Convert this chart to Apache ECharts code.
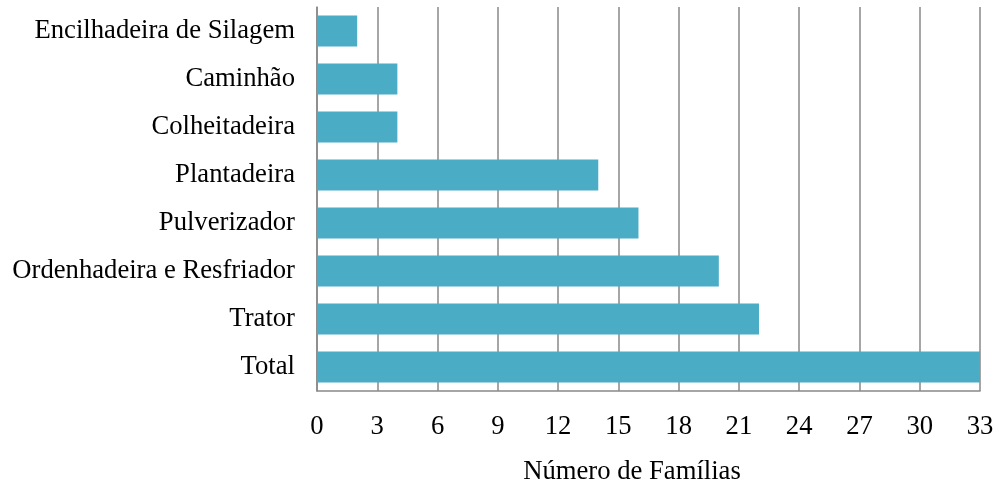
<!DOCTYPE html>
<html>
<head>
<meta charset="utf-8">
<script src="https://cdn.jsdelivr.net/npm/echarts@6/dist/echarts.min.js"></script>
<style>
  html, body { margin: 0; padding: 0; background: #fff; }
  #chart { width: 999px; height: 483px; }
</style>
</head>
<body>
<div id="chart"></div>
<script>
// categories listed bottom to top
const categories = ['Total', 'Trator', 'Ordenhadeira e Resfriador', 'Pulverizador',
  'Plantadeira', 'Colheitadeira', 'Caminhão', 'Encilhadeira de Silagem'];
const values = [33, 22, 20, 16, 14, 4, 4, 2];
const xTicks = [0, 3, 6, 9, 12, 15, 18, 21, 24, 27, 30, 33];

const font = '"Liberation Serif", "Times New Roman", serif';
const fs = 26.67; // 20pt
const chart = echarts.init(document.getElementById('chart'));

chart.setOption({
  animation: false,
  grid: { left: 317, right: 19, top: 7, bottom: 92, outerBoundsMode: 'none' },
  xAxis: {
    type: 'value',
    min: xTicks[0],
    max: xTicks[xTicks.length - 1],
    interval: 3,
    name: 'Número de Famílias',
    nameLocation: 'middle',
    nameGap: 67,
    // title sits a bit left of the plot centre in the original
    nameTextStyle: { fontFamily: font, fontSize: fs, color: '#000', padding: [0, 33, 0, 0] },
    axisLine: { show: true, lineStyle: { color: '#898989', width: 1.5 } },
    axisTick: { show: false },
    axisLabel: { fontFamily: font, fontSize: fs, color: '#000', margin: 22 },
    splitLine: { show: true, lineStyle: { color: '#898989', width: 1.5 } }
  },
  yAxis: {
    type: 'category',
    data: categories,
    axisLine: { show: true, lineStyle: { color: '#898989', width: 1.5 } },
    axisTick: { show: false },
    axisLabel: { fontFamily: font, fontSize: fs, color: '#000', margin: 22 }
  },
  series: [{
    type: 'bar',
    data: values,
    barCategoryGap: '35%',
    itemStyle: { color: '#4BACC6' }
  }]
});
</script>
</body>
</html>
